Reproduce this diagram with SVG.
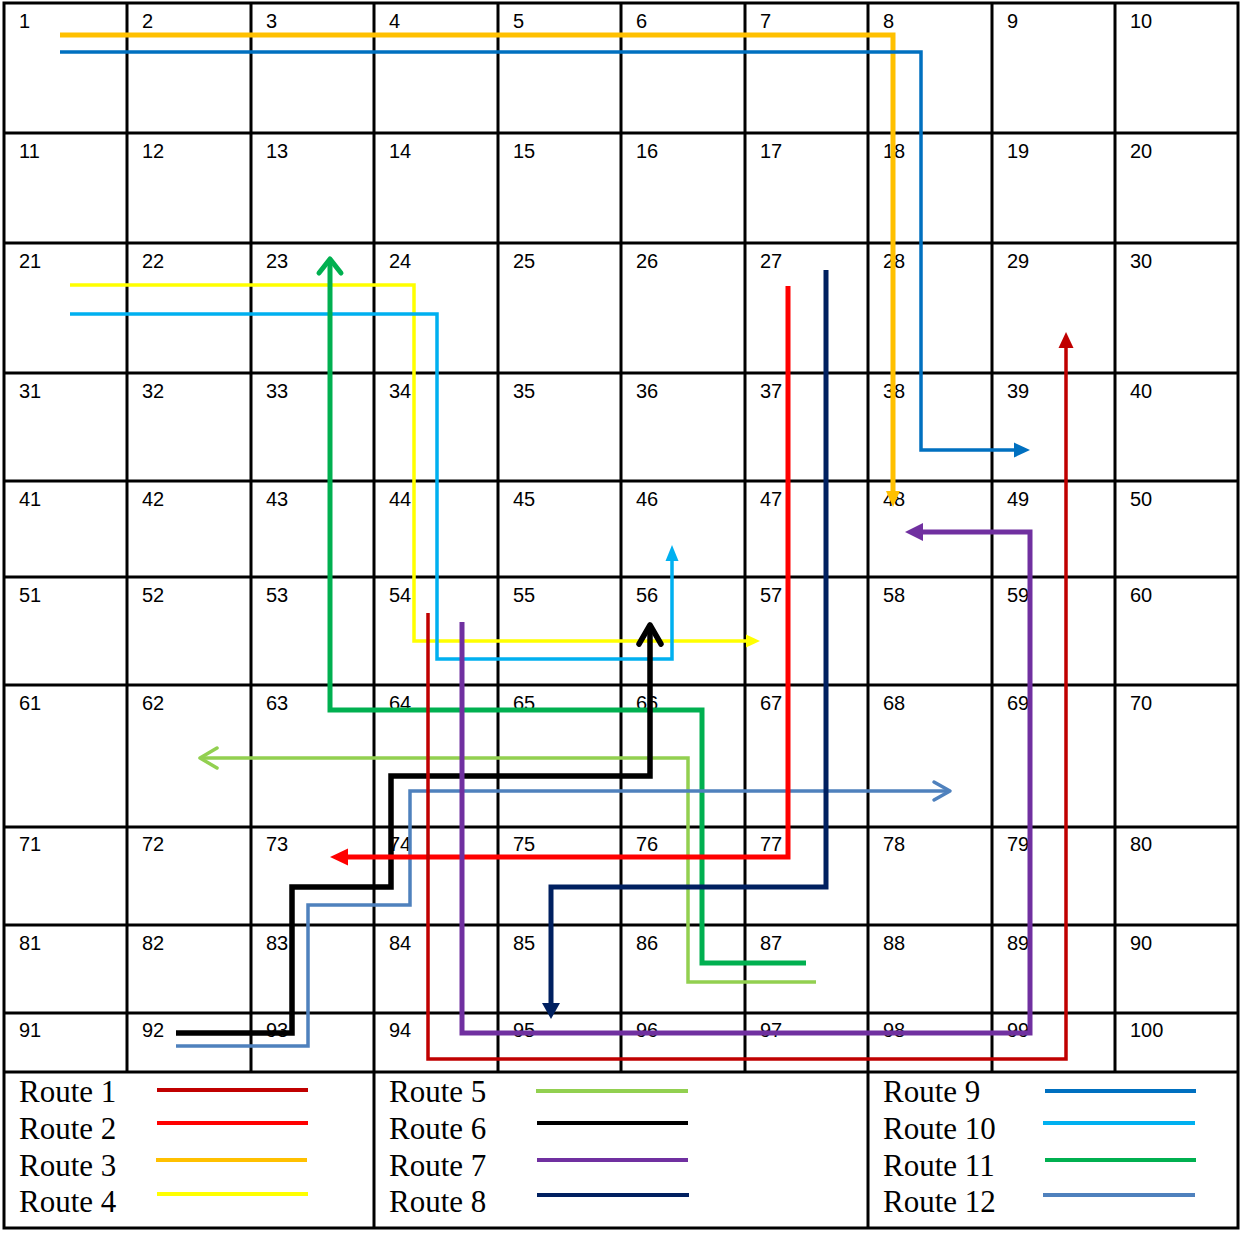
<svg xmlns="http://www.w3.org/2000/svg" width="1243" height="1237" viewBox="0 0 1243 1237">
<style>
.grid{stroke:#000;stroke-width:3;fill:none}
.num{font-family:"Liberation Sans",Arial,sans-serif;font-size:20px;fill:#000}
.leg{font-family:"Liberation Serif","Times New Roman",serif;font-size:31px;fill:#000}
.r{fill:none;stroke-linejoin:miter;stroke-linecap:butt}
.l{stroke-width:4;fill:none}
</style>
<defs>
<marker id="a1" markerUnits="userSpaceOnUse" overflow="visible" orient="auto" refX="0" refY="0" markerWidth="1" markerHeight="1"><path d="M-8,-7.5 L8,0 L-8,7.5Z" fill="#C00000"/></marker>
<marker id="a2" markerUnits="userSpaceOnUse" overflow="visible" orient="auto" refX="0" refY="0" markerWidth="1" markerHeight="1"><path d="M-9,-8.5 L9,0 L-9,8.5Z" fill="#FF0000"/></marker>
<marker id="a3" markerUnits="userSpaceOnUse" overflow="visible" orient="auto" refX="0" refY="0" markerWidth="1" markerHeight="1"><path d="M-8,-7 L8,0 L-8,7Z" fill="#FFC000"/></marker>
<marker id="a4" markerUnits="userSpaceOnUse" overflow="visible" orient="auto" refX="0" refY="0" markerWidth="1" markerHeight="1"><path d="M-7,-6.5 L7,0 L-7,6.5Z" fill="#FFFF00"/></marker>
<marker id="a7" markerUnits="userSpaceOnUse" overflow="visible" orient="auto" refX="0" refY="0" markerWidth="1" markerHeight="1"><path d="M-9,-9 L9,0 L-9,9Z" fill="#7030A0"/></marker>
<marker id="a8" markerUnits="userSpaceOnUse" overflow="visible" orient="auto" refX="0" refY="0" markerWidth="1" markerHeight="1"><path d="M-8,-9 L8,0 L-8,9Z" fill="#002060"/></marker>
<marker id="a9" markerUnits="userSpaceOnUse" overflow="visible" orient="auto" refX="0" refY="0" markerWidth="1" markerHeight="1"><path d="M-8,-7.5 L8,0 L-8,7.5Z" fill="#0070C0"/></marker>
<marker id="a10" markerUnits="userSpaceOnUse" overflow="visible" orient="auto" refX="0" refY="0" markerWidth="1" markerHeight="1"><path d="M-8,-6.5 L8,0 L-8,6.5Z" fill="#00B0F0"/></marker>
<marker id="c5" markerUnits="userSpaceOnUse" overflow="visible" orient="auto" refX="0" refY="0" markerWidth="1" markerHeight="1"><path d="M-17,-10 L0,0 L-17,10" fill="none" stroke="#92D050" stroke-width="3.5" stroke-linecap="round" stroke-linejoin="round"/></marker>
<marker id="c6" markerUnits="userSpaceOnUse" overflow="visible" orient="auto" refX="0" refY="0" markerWidth="1" markerHeight="1"><path d="M-19,-11 L0,0 L-19,11" fill="none" stroke="#000000" stroke-width="5.5" stroke-linecap="round" stroke-linejoin="round"/></marker>
<marker id="c11" markerUnits="userSpaceOnUse" overflow="visible" orient="auto" refX="0" refY="0" markerWidth="1" markerHeight="1"><path d="M-14,-11 L0,0 L-14,11" fill="none" stroke="#00B050" stroke-width="5" stroke-linecap="round" stroke-linejoin="round"/></marker>
<marker id="c12" markerUnits="userSpaceOnUse" overflow="visible" orient="auto" refX="0" refY="0" markerWidth="1" markerHeight="1"><path d="M-16,-9 L0,0 L-16,9" fill="none" stroke="#4F81BD" stroke-width="3.5" stroke-linecap="round" stroke-linejoin="round"/></marker>
</defs>
<rect x="0" y="0" width="1243" height="1237" fill="#fff"/>
<g id="grid" class="grid">
<rect x="4" y="3" width="1234" height="1225"/>
<path d="M127,3V1072M251,3V1072M374,3V1228M498,3V1072M621,3V1072M745,3V1072M868,3V1228M992,3V1072M1115,3V1072"/>
<path d="M4,133H1238M4,243H1238M4,373H1238M4,481H1238M4,577H1238M4,685H1238M4,827H1238M4,925H1238M4,1013H1238M4,1072H1238"/>
</g>
<g id="cells" class="num">
<text x="19" y="28">1</text><text x="142" y="28">2</text><text x="266" y="28">3</text><text x="389" y="28">4</text><text x="513" y="28">5</text><text x="636" y="28">6</text><text x="760" y="28">7</text><text x="883" y="28">8</text><text x="1007" y="28">9</text><text x="1130" y="28">10</text>
<text x="19" y="158">11</text><text x="142" y="158">12</text><text x="266" y="158">13</text><text x="389" y="158">14</text><text x="513" y="158">15</text><text x="636" y="158">16</text><text x="760" y="158">17</text><text x="883" y="158">18</text><text x="1007" y="158">19</text><text x="1130" y="158">20</text>
<text x="19" y="268">21</text><text x="142" y="268">22</text><text x="266" y="268">23</text><text x="389" y="268">24</text><text x="513" y="268">25</text><text x="636" y="268">26</text><text x="760" y="268">27</text><text x="883" y="268">28</text><text x="1007" y="268">29</text><text x="1130" y="268">30</text>
<text x="19" y="398">31</text><text x="142" y="398">32</text><text x="266" y="398">33</text><text x="389" y="398">34</text><text x="513" y="398">35</text><text x="636" y="398">36</text><text x="760" y="398">37</text><text x="883" y="398">38</text><text x="1007" y="398">39</text><text x="1130" y="398">40</text>
<text x="19" y="506">41</text><text x="142" y="506">42</text><text x="266" y="506">43</text><text x="389" y="506">44</text><text x="513" y="506">45</text><text x="636" y="506">46</text><text x="760" y="506">47</text><text x="883" y="506">48</text><text x="1007" y="506">49</text><text x="1130" y="506">50</text>
<text x="19" y="602">51</text><text x="142" y="602">52</text><text x="266" y="602">53</text><text x="389" y="602">54</text><text x="513" y="602">55</text><text x="636" y="602">56</text><text x="760" y="602">57</text><text x="883" y="602">58</text><text x="1007" y="602">59</text><text x="1130" y="602">60</text>
<text x="19" y="710">61</text><text x="142" y="710">62</text><text x="266" y="710">63</text><text x="389" y="710">64</text><text x="513" y="710">65</text><text x="636" y="710">66</text><text x="760" y="710">67</text><text x="883" y="710">68</text><text x="1007" y="710">69</text><text x="1130" y="710">70</text>
<text x="19" y="851">71</text><text x="142" y="851">72</text><text x="266" y="851">73</text><text x="389" y="851">74</text><text x="513" y="851">75</text><text x="636" y="851">76</text><text x="760" y="851">77</text><text x="883" y="851">78</text><text x="1007" y="851">79</text><text x="1130" y="851">80</text>
<text x="19" y="950">81</text><text x="142" y="950">82</text><text x="266" y="950">83</text><text x="389" y="950">84</text><text x="513" y="950">85</text><text x="636" y="950">86</text><text x="760" y="950">87</text><text x="883" y="950">88</text><text x="1007" y="950">89</text><text x="1130" y="950">90</text>
<text x="19" y="1037">91</text><text x="142" y="1037">92</text><text x="266" y="1037">93</text><text x="389" y="1037">94</text><text x="513" y="1037">95</text><text x="636" y="1037">96</text><text x="760" y="1037">97</text><text x="883" y="1037">98</text><text x="1007" y="1037">99</text><text x="1130" y="1037">100</text>
</g>
<g id="connectors">
<path id="route3" class="r" d="M60,35H893V499" stroke="#FFC000" stroke-width="5" marker-end="url(#a3)"/>
<path id="route9" class="r" d="M60,52H921V450H1022" stroke="#0070C0" stroke-width="3.5" marker-end="url(#a9)"/>
<path id="route4" class="r" d="M70,285H414V641H753" stroke="#FFFF00" stroke-width="3.5" marker-end="url(#a4)"/>
<path id="route10" class="r" d="M70,314H437V659H672V553" stroke="#00B0F0" stroke-width="3.5" marker-end="url(#a10)"/>
<path id="route11" class="r" d="M806,963H702V710H330V259" stroke="#00B050" stroke-width="5" marker-end="url(#c11)"/>
<path id="route5" class="r" d="M816,982H688V758H200" stroke="#92D050" stroke-width="3.5" marker-end="url(#c5)"/>
<path id="route6" class="r" d="M176,1033H292V887H391V776H650V625" stroke="#000000" stroke-width="5.5" marker-end="url(#c6)"/>
<path id="route12" class="r" d="M176,1046H308V905H410V791H950" stroke="#4F81BD" stroke-width="3.5" marker-end="url(#c12)"/>
<path id="route2" class="r" d="M788,286V857H339" stroke="#FF0000" stroke-width="5" marker-end="url(#a2)"/>
<path id="route8" class="r" d="M826,270V887H551V1011" stroke="#002060" stroke-width="5" marker-end="url(#a8)"/>
<path id="route1" class="r" d="M428,613V1059H1066V340" stroke="#C00000" stroke-width="3.5" marker-end="url(#a1)"/>
<path id="route7" class="r" d="M462,622V1033H1030V532H914" stroke="#7030A0" stroke-width="5" marker-end="url(#a7)"/>
</g>
<g id="legend">
<g class="leg">
<text x="19" y="1102">Route 1</text><text x="19" y="1139">Route 2</text><text x="19" y="1176">Route 3</text><text x="19" y="1212">Route 4</text>
<text x="389" y="1102">Route 5</text><text x="389" y="1139">Route 6</text><text x="389" y="1176">Route 7</text><text x="389" y="1212">Route 8</text>
<text x="883" y="1102">Route 9</text><text x="883" y="1139">Route 10</text><text x="883" y="1176">Route 11</text><text x="883" y="1212">Route 12</text>
</g>
<path class="l" d="M157,1090H308" stroke="#C00000"/>
<path class="l" d="M157,1123H308" stroke="#FF0000"/>
<path class="l" d="M156,1160H307" stroke="#FFC000"/>
<path class="l" d="M157,1194H308" stroke="#FFFF00"/>
<path class="l" d="M536,1091H688" stroke="#92D050"/>
<path class="l" d="M537,1123H688" stroke="#000000"/>
<path class="l" d="M537,1160H688" stroke="#7030A0"/>
<path class="l" d="M537,1195H689" stroke="#002060"/>
<path class="l" d="M1045,1091H1196" stroke="#0070C0"/>
<path class="l" d="M1043,1123H1195" stroke="#00B0F0"/>
<path class="l" d="M1045,1160H1196" stroke="#00B050"/>
<path class="l" d="M1043,1195H1195" stroke="#4F81BD"/>
</g>
</svg>
